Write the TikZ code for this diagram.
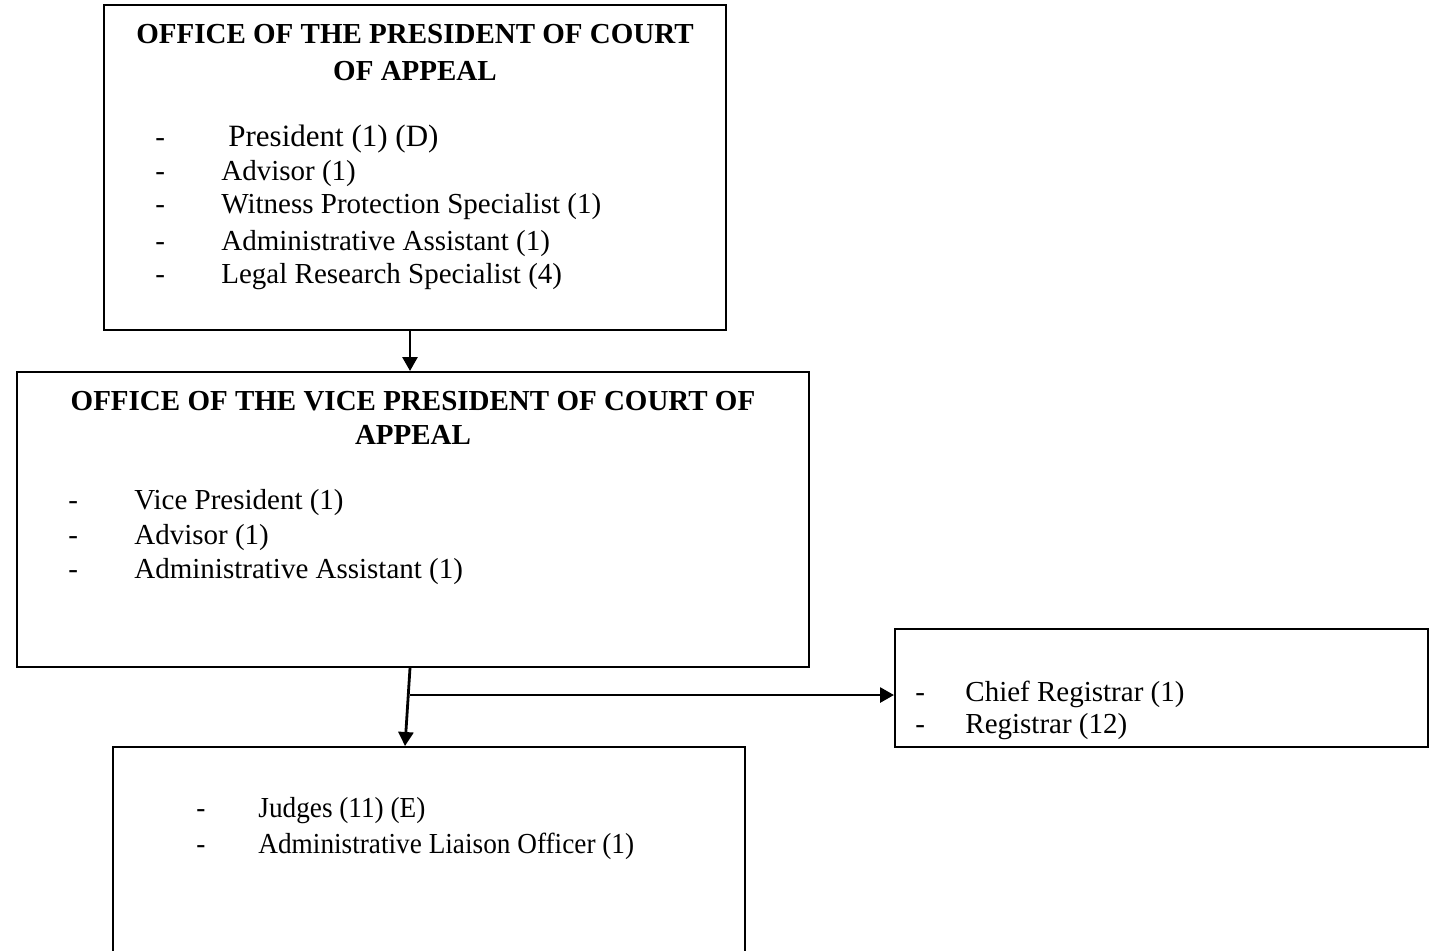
\documentclass[tikz,border=0pt]{standalone}
\usepackage{fontspec}
\setmainfont{Liberation Serif}
\newfontfamily\condfont[FakeStretch=0.94]{Liberation Serif}
\usetikzlibrary{arrows.meta}
\begin{document}
\begin{tikzpicture}[x=0.5pt,y=-0.5pt,
  box/.style={draw,line width=1pt,rectangle,inner sep=0pt},
  txt/.style={anchor=base west,inner sep=0pt,font=\fontsize{14.5}{16}\selectfont},
  ctxt/.style={anchor=base west,inner sep=0pt,font=\fontsize{14.5}{16}\condfont},
  ttl/.style={anchor=base,inner sep=0pt,font=\fontsize{14.5}{16}\selectfont\bfseries},
  arr/.style={line width=1.4pt,-{Triangle[length=7pt,width=7.5pt]}}]
\useasboundingbox (0,0) rectangle (1434,950);
% boxes
\node[box,minimum width=311pt,minimum height=162.5pt] (b1) at (415,167.5) {};
\node[box,minimum width=396pt,minimum height=147.5pt] (b2) at (413,519.5) {};
\node[box,minimum width=266.5pt,minimum height=59pt] (b3) at (1161.5,688) {};
\node[box,minimum width=316pt,minimum height=108pt] (b4) at (429,855) {};
% box 1 text
\node[ttl] (t1a) at (415,43) {OFFICE OF THE PRESIDENT OF COURT};
\node[ttl] (t1b) at (415,80) {OF APPEAL};
\node[txt] (d11) at (155,146) {-};
\node[txt,font=\fontsize{15.5}{16}\selectfont] (t11) at (228,146) {President (1) (D)};
\node[txt] (d12) at (155,180) {-};
\node[txt] (t12) at (221,180) {Advisor (1)};
\node[txt] (d13) at (155,213) {-};
\node[txt] (t13) at (221,213) {Witness Protection Specialist (1)};
\node[txt] (d14) at (155,250) {-};
\node[txt] (t14) at (221,250) {Administrative Assistant (1)};
\node[txt] (d15) at (155,283) {-};
\node[txt] (t15) at (221,283) {Legal Research Specialist (4)};
% box 2 text
\node[ttl] (t2a) at (413,410) {OFFICE OF THE VICE PRESIDENT OF COURT OF};
\node[ttl] (t2b) at (413,444) {APPEAL};
\node[txt] (d21) at (68,509) {-};
\node[txt] (t21) at (134,509) {Vice President (1)};
\node[txt] (d22) at (68,544) {-};
\node[txt] (t22) at (134,544) {Advisor (1)};
\node[txt] (d23) at (68,578) {-};
\node[txt] (t23) at (134,578) {Administrative Assistant (1)};
% box 3 text
\node[txt] (d31) at (915,701) {-};
\node[txt] (t31) at (965,701) {Chief Registrar (1)};
\node[txt] (d32) at (915,733) {-};
\node[txt] (t32) at (965,733) {Registrar (12)};
% box 4 text
\node[ctxt] (d41) at (196,817) {-};
\node[ctxt] (t41) at (258,817) {Judges (11) (E)};
\node[ctxt] (d42) at (196,853) {-};
\node[ctxt] (t42) at (258,853) {Administrative Liaison Officer (1)};
% connectors
\draw[arr] ([xshift=-2.5pt]b1.south) -- ([xshift=-1.5pt]b2.north);
\draw[arr] ([xshift=-1.5pt]b2.south) -- ([xshift=-12pt]b4.north);
\coordinate (j) at (410,695);
\draw[arr] (j) -- (j -| b3.west);
\end{tikzpicture}
\end{document}
